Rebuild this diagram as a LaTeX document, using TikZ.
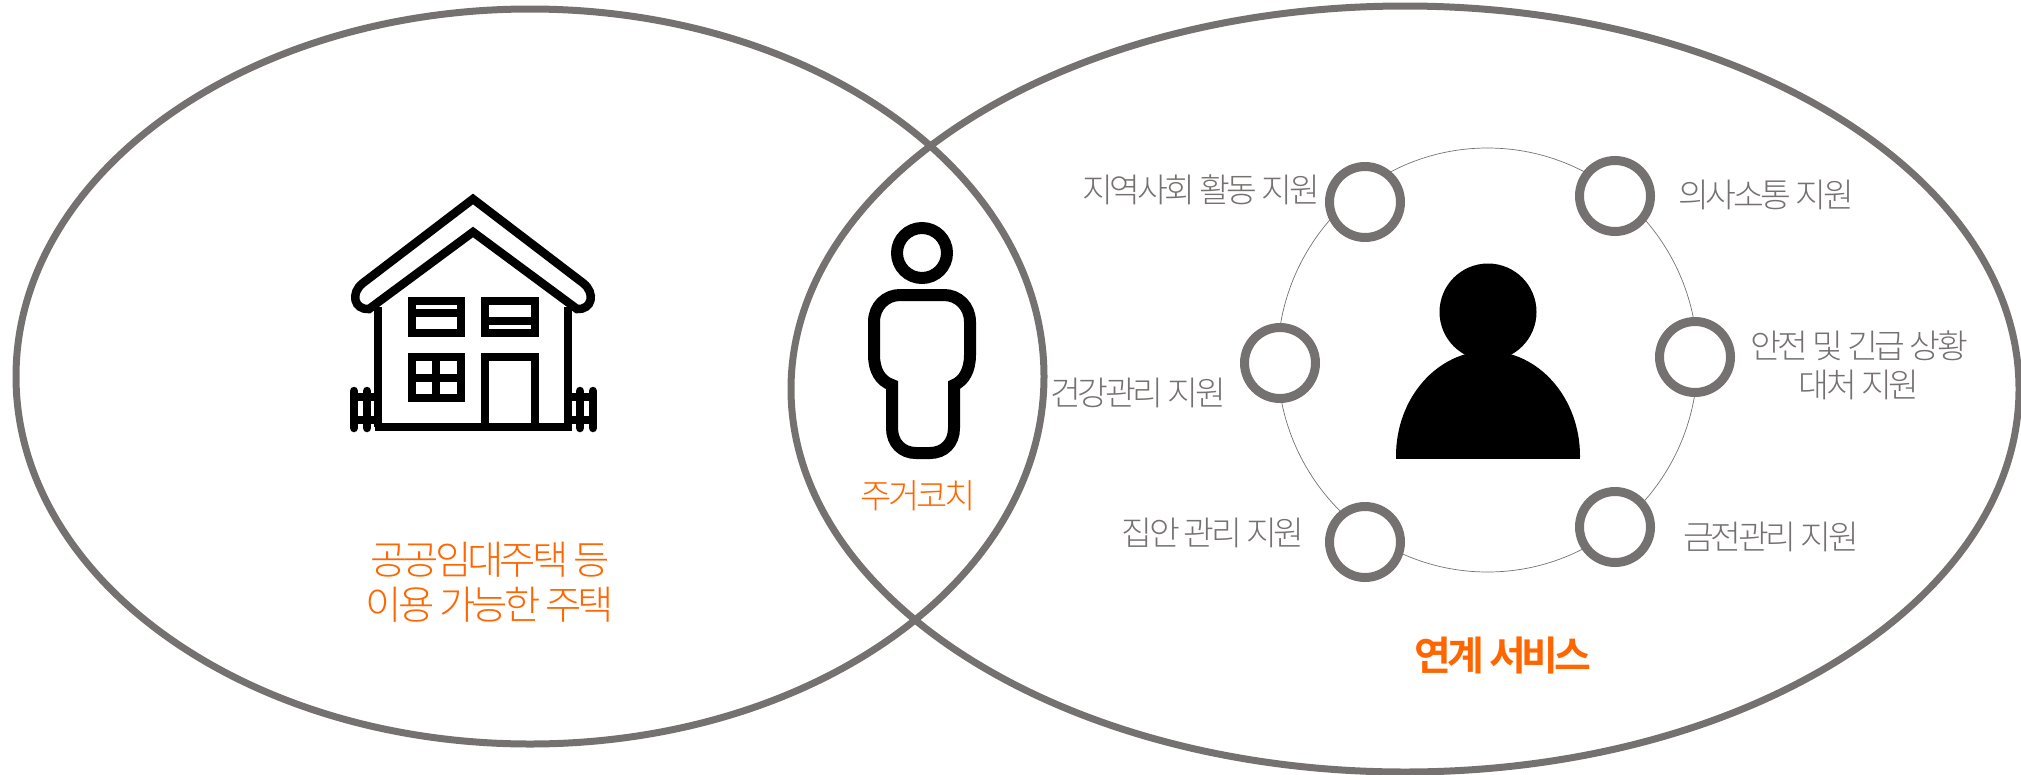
\documentclass[tikz,border=0pt]{standalone}
\usepackage{fontspec}
\usepackage{tikz}
\newfontfamily\kor[LetterSpace=-10,BoldFont={Noto Sans CJK KR Bold}]{Noto Sans CJK KR Light}
\definecolor{ringgray}{HTML}{767171}
\definecolor{tagorange}{HTML}{FF6600}
\tikzset{
  bigring/.style={draw=ringgray,line width=7},
  svcring/.style={circle,draw=ringgray,line width=9,fill=white,minimum size=71,inner sep=0},
  svclabel/.style={text=ringgray,inner sep=0,align=center,font=\kor\fontsize{33.5}{39}\selectfont},
  taglabel/.style={text=tagorange,inner sep=0,align=center},
  icon/.style={line width=8.5,black}
}
\begin{document}
\begin{tikzpicture}[x=1pt,y=-1pt]
\useasboundingbox (0,0) rectangle (2021,774);

\draw[bigring] (530,376.5) ellipse [x radius=514,y radius=367.5];
\draw[bigring] (1405,389) ellipse [x radius=614,y radius=383];

% house
\draw[icon] (473,199)--(583,283) .. controls (596,293) and (592,310) .. (577,309)--(473,232)--(369,309) .. controls (354,310) and (350,293) .. (363,283)--cycle;
\draw[icon] (378,307)--(378,427);
\draw[icon] (568,307)--(568,427);
\draw[icon] (375,427)--(572,427);
\draw[icon] (412,301) rectangle (461,333);
\draw[icon] (412,313)--(461,313);
\draw[icon] (485,301) rectangle (535,333);
\draw[icon] (485,321)--(535,321);
\draw[icon] (412,357) rectangle (461,398);
\draw[icon] (412,378)--(461,378);
\draw[icon] (436,357)--(436,398);
\draw[icon] (485,427)--(485,357)--(535,357)--(535,427);
\foreach \postx in {354,367,580,593}
  \draw[icon,line cap=round] (\postx,391)--(\postx,428);
\draw[icon] (354,397)--(378,397);
\draw[icon] (354,420)--(378,420);
\draw[icon] (568,397)--(593,397);
\draw[icon] (568,420)--(593,420);

% coach
\draw[line width=12] (922,253) circle [radius=25];
\draw[line width=12] (892,385)--(892,428) .. controls (892,443) and (902,453) .. (916,453)--(930,453) .. controls (944,453) and (954,443) .. (954,428)--(954,385) .. controls (964,381) and (970,370) .. (970,355)--(970,322) .. controls (970,306) and (958,295) .. (944,295)--(900,295) .. controls (886,295) and (874,306) .. (874,322)--(874,355) .. controls (874,370) and (880,381) .. (892,385)--cycle;

% services
\draw[ringgray,line width=0.7] (1487.5,360) ellipse [x radius=210,y radius=212];
\node[svcring] (community) at (1365,202) {};
\node[svcring] (talk) at (1615,196) {};
\node[svcring] (health) at (1280,363) {};
\node[svcring] (safety) at (1695,357) {};
\node[svcring] (home) at (1365,542) {};
\node[svcring] (money) at (1615,527) {};

% person
\fill (1488,312) circle [radius=48.5];
\begin{scope}
\clip (1380,340) rectangle (1600,458);
\fill (1488,456) ellipse [x radius=92,y radius=105];
\end{scope}

\node[svclabel] (communitytxt) at (1201,190) {지역사회 활동 지원};
\node[svclabel] (talktxt) at (1766,195) {의사소통 지원};
\node[svclabel] (healthtxt) at (1138,393) {건강관리 지원};
\node[svclabel] (safetytxt) at (1859,365) {안전 및 긴급 상황\\대처 지원};
\node[svclabel] (hometxt) at (1213,533) {집안 관리 지원};
\node[svclabel] (moneytxt) at (1771,537) {금전관리 지원};

\node[taglabel,font=\kor\fontsize{39.5}{45}\selectfont] (housetxt) at (490,582) {공공임대주택 등\\이용 가능한 주택};
\node[taglabel,font=\kor\fontsize{34}{40}\selectfont] (coachtxt) at (918,496) {주거코치};
\node[taglabel,font=\kor\bfseries\fontsize{40}{46}\selectfont] (linktxt) at (1503,656) {연계 서비스};

\end{tikzpicture}
\end{document}
